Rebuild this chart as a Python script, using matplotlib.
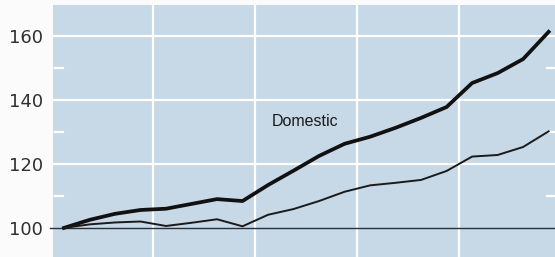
import matplotlib.pyplot as plt
import numpy as np

# index values, one point per year (20 years)
periods = np.arange(20)
domestic = [100, 102.5, 104.4, 105.6, 106.0, 107.5, 109.0, 108.4, 113.4, 117.9,
            122.5, 126.3, 128.5, 131.3, 134.4, 137.8, 145.3, 148.4, 152.8, 161.3]
other = [100, 101.1, 101.7, 102.0, 100.6, 101.6, 102.7, 100.5, 104.1, 105.9,
         108.4, 111.3, 113.3, 114.1, 115.0, 117.8, 122.3, 122.8, 125.3, 130.2]
y_ticks = [100, 120, 140, 160]
y_labels = ["100", "120", "140", "160"]

bg = "#c7d8e7"

fig = plt.figure(figsize=(5.55, 2.57), dpi=100)
fig.patch.set_facecolor("#fbfbfb")
ax = fig.add_axes([53 / 555, 0, 502 / 555, 252 / 257])
ax.set_facecolor(bg)
ax.set_xlim(-0.43, 19.25)
ax.set_ylim(90.9, 169.7)

# white grid
for v in [120, 140, 160]:
    ax.axhline(v, color="white", lw=1.6, zorder=1)
for x in [3.5, 7.5, 11.5, 15.5]:
    ax.axvline(x, color="white", lw=1.6, zorder=1)
# small white minor dashes at both sides
for v in [110, 130, 150]:
    ax.plot([-0.35, -0.05], [v, v], color="white", lw=1.6, zorder=1)
    ax.plot([18.95, 19.25], [v, v], color="white", lw=1.6, zorder=1)

ax.plot([-0.55, 19.25], [100, 100], color="#27303c", lw=1.0, zorder=2, clip_on=False)

ax.plot(periods, domestic, color="#111111", lw=2.7, solid_joinstyle="round", zorder=3)
ax.plot(periods, other, color="#1a1a1a", lw=1.4, solid_joinstyle="round", zorder=3)

ax.text(9.45, 133.4, "Domestic", fontsize=11.5, family="Liberation Sans",
        ha="center", va="center", color="#1a1a1a")

ax.set_xticks([])
ax.set_yticks(y_ticks)
ax.set_yticklabels(y_labels, family="DejaVu Sans", fontsize=13,
                   color="#303030")
ax.tick_params(axis="y", length=0, pad=7)
for s in ax.spines.values():
    s.set_visible(False)

fig.savefig("out.png", dpi=100, facecolor=fig.get_facecolor())
